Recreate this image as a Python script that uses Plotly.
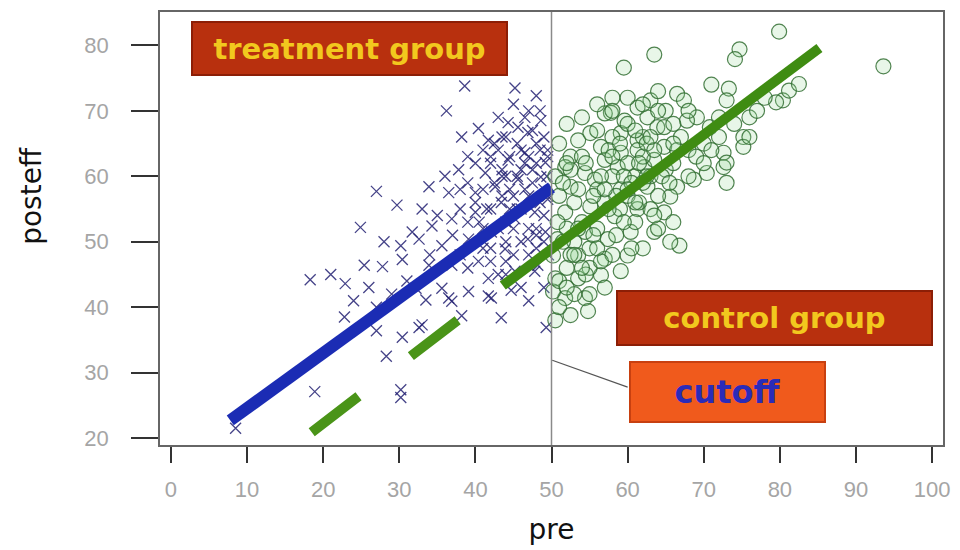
import plotly.graph_objects as go

# Regression-discontinuity example: pretest vs. posttest efficiency, cutoff at pre = 50
cutoff = 50

# Treatment group (pre below cutoff)
treat_pre = [8.5, 18.9, 18.3, 22.9, 25.4, 27.8, 30.4, 22.8, 27.0, 28.3, 30.4, 33.0, 33.5, 36.5, 38.2,
             43.4, 41.7, 44.7, 49.3, 30.2, 30.2, 24.9, 27.0, 29.7, 30.2, 31.7, 36.2, 48.0, 45.2, 38.2,
             40.4, 41.7, 44.3, 45.6, 48.6, 46.9, 37.8, 41.3, 44.3, 46.5, 49.2, 33.9, 36.5, 40.0, 42.6,
             45.6, 48.6, 36.9, 40.0, 43.4, 34.3, 32.6, 35.6, 39.1, 42.1, 45.2, 47.8, 49.5, 33.9, 36.9,
             40.4, 43.9, 46.9, 49.2, 32.2, 35.6, 39.1, 41.7, 45.2, 48.2, 36.9, 42.1, 32.6, 47.8, 38.6,
             42, 43, 44, 45, 46, 47, 48, 49, 47, 46, 44, 43, 42, 41, 40, 39, 38, 37, 38, 39,
             41, 42, 44, 45, 47, 48, 49, 49.4, 48, 46, 44, 43, 47, 49, 45, 41, 39, 35, 36, 34,
             33, 31, 29, 27, 26, 24, 21, 28, 44, 46, 49, 47, 49.6,
             45.5, 46.5, 47.5, 48.5, 49.5, 44.5, 43.5, 42.5, 41.5, 40.5, 45.5, 46.5, 47.5, 48.5, 49.5,
             44.5, 43.5, 42.5, 45, 46, 47, 48, 49, 44, 43, 42, 46.5, 47.5, 48.5, 49.5, 44.5, 43.5,
             45.5, 41, 40, 39, 38, 42, 43.5, 48]
treat_post = [21.5, 27.1, 44.2, 43.6, 46.4, 46.2, 47.3, 38.5, 36.4, 32.5, 35.4, 37.3, 41.1, 41.4, 38.7,
              38.4, 41.7, 42.6, 36.9, 27.4, 26.2, 52.2, 57.7, 55.6, 49.4, 51.5, 70.0, 72.3, 73.5, 66.0,
              67.3, 65.5, 68.2, 67.5, 68.5, 66.7, 61.0, 60.5, 62.5, 63.6, 62.1, 58.4, 57.5, 57.5, 58.4,
              59.5, 59.9, 53.5, 54.5, 56.0, 52.4, 50.4, 49.4, 50.4, 51.5, 53.5, 54.5, 56.5, 46.4, 46.4,
              47.0, 48.9, 50.4, 51.5, 42.9, 42.9, 42.4, 44.4, 45.5, 46.4, 40.9, 41.4, 36.9, 45.5, 73.8,
              62, 64, 60, 57, 61, 63, 65, 58, 57, 55, 53, 52, 55, 58, 62, 59, 55, 51, 48, 46,
              49, 47, 50, 48, 52, 49, 54, 60, 62, 64, 66, 69, 70, 66, 71, 64, 63, 54, 60, 48,
              55, 44, 42, 40, 43, 41, 45, 50, 45, 43, 43, 41, 48,
              60, 58, 61, 56, 63, 58, 61, 59, 55, 53, 65, 62, 59, 64, 57,
              55, 57, 65, 52, 50, 48, 52, 50, 47, 45, 49, 69, 67, 70, 64, 63, 66,
              55, 52, 56, 53, 58, 63, 60, 51]

# Control group (pre at or above cutoff)
ctrl_pre = [59.5, 63.5, 74.7, 74.1, 79.9, 93.6, 57.8, 53.5, 55.1, 61.3, 63.0, 66.5, 67.4, 73.3, 73.0,
            75.2, 75.2, 72.6, 72.6, 70.4, 68.7, 66.5, 80.4, 81.2, 82.5, 69.1, 70.8, 59.1, 59.1, 61.3,
            63.9, 64.8, 62.2, 57.0, 54.4, 52.5, 79.5, 73.0, 67.8, 66.8, 57.0, 51.8, 56.5, 59.6, 62.6,
            64.8, 58.7, 61.3, 63.5, 66.5, 52.5, 55.7, 59.1, 62.6, 65.6, 64.8, 51.8, 55.1, 58.3, 61.3,
            50.8, 54.4, 57.4, 60.4, 63.5, 65.6, 50.2, 53.5, 57.0, 60.0, 50.5, 53.5, 56.5, 59.1, 51.8,
            54.4, 50.2, 52.5, 54.8,
            53, 54, 56, 57, 58, 60, 61, 62, 63, 64, 65, 66, 67, 68, 69, 70, 71, 72, 60, 59,
            56, 55, 53, 52, 55, 57, 58, 61, 62, 64, 63, 66, 68, 70, 74, 76, 77, 78, 52, 51,
            54, 58, 60, 62, 65, 66, 68, 50.5, 51, 52, 56, 58, 61, 64, 71, 72, 76, 73, 50.5, 51, 53,
            51.5, 52.5, 53.5, 54.5, 55.5, 56.5, 57.5, 58.5, 59.5, 60.5, 61.5, 62.5, 63.5, 51.5, 52.5,
            53.5, 54.5, 55.5, 56.5, 57.5, 58.5, 59.5, 60.5, 61.5, 62.5, 63.5, 64.5, 65.5, 51, 52,
            53, 54, 55, 56, 57, 58, 59, 60, 61, 62, 63, 50.8, 52, 54, 56, 58, 60, 62, 64, 66]
ctrl_post = [76.6, 78.6, 79.4, 77.9, 82.1, 76.8, 69.7, 65.5, 66.6, 70.5, 71.6, 72.6, 71.6, 73.4, 71.6,
             66.0, 64.5, 63.6, 61.4, 60.5, 59.5, 58.4, 71.6, 73.1, 74.1, 69.0, 67.5, 66.6, 63.6, 65.5,
             67.5, 64.5, 61.4, 62.5, 60.5, 63.0, 71.3, 62.1, 68.5, 49.4, 69.6, 61.4, 64.5, 68.5, 69.0,
             67.5, 61.4, 64.0, 62.5, 64.0, 58.4, 59.5, 58.0, 58.4, 56.9, 54.5, 54.5, 55.4, 53.9, 55.0,
             50.4, 51.5, 50.4, 51.5, 51.5, 50.0, 47.9, 47.9, 47.4, 47.9, 44.4, 44.4, 44.9, 45.5, 41.4,
             41.4, 42.4, 38.8, 39.4,
             56, 53, 58, 56, 60, 62, 60, 63, 60, 57, 61, 62, 66, 64, 63, 65, 64, 69, 57, 55,
             52, 49, 50, 46, 46, 43, 48, 53, 49, 52, 55, 53, 60, 62, 68, 69, 70, 72, 52, 57,
             63, 66, 68, 66, 70, 68, 70, 60, 65, 68, 71, 72, 67, 73, 74, 66, 66, 59, 38, 40, 42,
             59, 61, 58, 62, 57, 60, 64, 57, 60, 59, 62, 65, 64, 50, 48,
             52, 45, 51, 47, 55, 51, 53, 49, 56, 60, 54, 60, 59, 44, 43,
             48, 46, 42, 49, 58, 63, 65, 58, 56, 59, 66, 53, 62, 69, 67, 70, 72, 71, 70, 65]

# Fitted regression lines
treat_fit_pre = [7.8, 50]
treat_fit_post = [22.7, 58.3]
ctrl_fit_pre = [43.6, 85.2]
ctrl_fit_post = [43.3, 79.6]
# control fit projected below the cutoff (dashed)
ctrl_proj_pre = [18.5, 43.6]
ctrl_proj_post = [20.9, 43.3]

x_ticks = [0, 10, 20, 30, 40, 50, 60, 70, 80, 90, 100]
y_ticks = [20, 30, 40, 50, 60, 70, 80]

fig = go.Figure()

fig.add_trace(go.Scatter(
    x=treat_pre, y=treat_post, mode="markers", name="treatment",
    marker=dict(symbol="x-thin", size=11, color="#2b2a78",
                line=dict(width=1.3, color="rgba(36,34,115,0.85)")),
))
fig.add_trace(go.Scatter(
    x=ctrl_pre, y=ctrl_post, mode="markers", name="control",
    marker=dict(symbol="circle", size=15, color="rgba(150,215,150,0.22)",
                line=dict(width=1.2, color="rgba(50,110,50,0.85)")),
))

fig.add_trace(go.Scatter(
    x=ctrl_proj_pre, y=ctrl_proj_post, mode="lines",
    line=dict(color="#4a9418", width=10, dash="59px,66px"),
))
fig.add_trace(go.Scatter(
    x=treat_fit_pre, y=treat_fit_post, mode="lines",
    line=dict(color="#1b2cb4", width=12),
))
fig.add_trace(go.Scatter(
    x=ctrl_fit_pre, y=ctrl_fit_post, mode="lines",
    line=dict(color="#3f8c12", width=10),
))

# cutoff line
fig.add_shape(type="line", x0=cutoff, x1=cutoff, y0=0, y1=1, xref="x", yref="paper",
              line=dict(color="#8a8a8a", width=1.5))
# pointer from the cutoff label to the cutoff line
fig.add_shape(type="line", x0=50.1, y0=31.9, x1=60.0, y1=27.8, xref="x", yref="y",
              line=dict(color="#555555", width=1.2))

box_font = dict(family="DejaVu Sans", size=29, color="#f2c81e", weight="bold")
fig.add_annotation(x=23.4, y=79.5, xref="x", yref="y", text="treatment group",
                   showarrow=False, xanchor="center", yanchor="middle",
                   width=313, height=51, bgcolor="#b8300e", bordercolor="#8c1e06",
                   borderwidth=2, borderpad=0, font=box_font)
fig.add_annotation(x=79.3, y=38.4, xref="x", yref="y", text="control group",
                   showarrow=False, xanchor="center", yanchor="middle",
                   width=313, height=52, bgcolor="#b8300e", bordercolor="#8c1e06",
                   borderwidth=2, borderpad=0, font=box_font)
fig.add_annotation(x=73.1, y=27.1, xref="x", yref="y", text="cutoff",
                   showarrow=False, xanchor="center", yanchor="middle",
                   width=193, height=58, bgcolor="#f05a1c", bordercolor="#c84010",
                   borderwidth=2, borderpad=0,
                   font=dict(family="DejaVu Sans", size=32, color="#2b2bb8", weight="bold"))

# y-axis title
fig.add_annotation(x=-0.165, y=0.575, xref="paper", yref="paper", text="posteff",
                   textangle=-90, showarrow=False, xanchor="center", yanchor="middle",
                   font=dict(family="DejaVu Sans", size=28, color="#111111"))

axis_common = dict(showgrid=False, zeroline=False, showline=True, mirror=True,
                   linecolor="#666666", linewidth=1.5, ticks="outside",
                   tickcolor="#333333", tickwidth=1.5,
                   tickfont=dict(family="Liberation Sans", size=22, color="#a5a5a5"))

fig.update_xaxes(range=[-1.43, 101.43], tickvals=x_ticks, ticklen=16,
                 ticklabelstandoff=8,
                 title=dict(text="pre", standoff=18,
                            font=dict(family="DejaVu Sans", size=28, color="#111111")),
                 **axis_common)
fig.update_yaxes(range=[18.95, 85.1], tickvals=y_ticks, ticklen=27,
                 ticklabelstandoff=18, **axis_common)

fig.update_layout(
    width=960, height=550,
    margin=dict(l=160, r=11, t=10, b=100),
    paper_bgcolor="white", plot_bgcolor="white",
    showlegend=False,
)

fig.write_html("out.html")
